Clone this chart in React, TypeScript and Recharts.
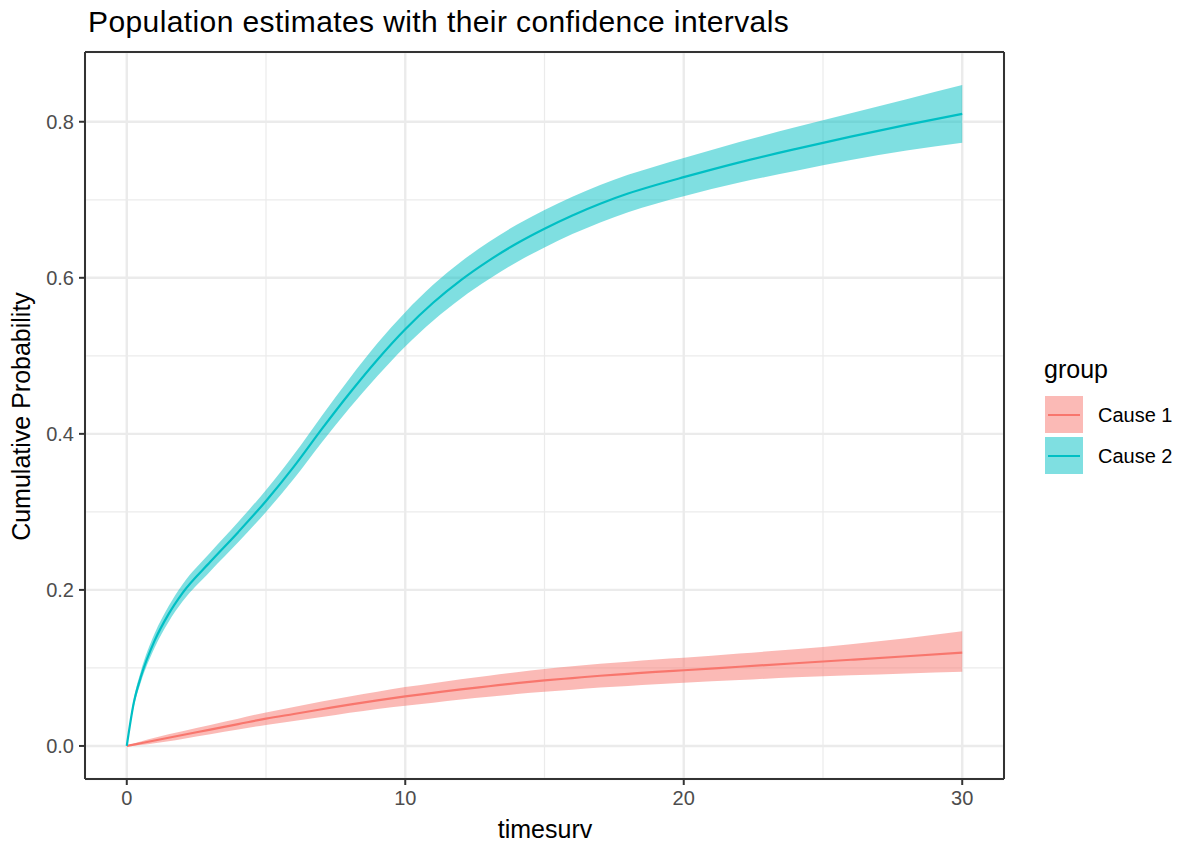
import React from 'react';
import { ComposedChart, Area, Line, XAxis, YAxis, CartesianGrid } from 'recharts';

const times = [0, 0.25, 0.5, 1, 1.5, 2, 3, 4, 5, 6, 7, 8, 9, 10, 11, 12, 13, 14, 15, 16, 17, 18, 19, 20, 22, 24, 26, 28, 30];

const cause1Est = [0, 0.0018, 0.0035, 0.007, 0.0105, 0.014, 0.021, 0.028, 0.035, 0.041, 0.047, 0.053, 0.0585, 0.0635, 0.068, 0.0725, 0.0765, 0.0805, 0.084, 0.087, 0.09, 0.0925, 0.095, 0.097, 0.1015, 0.106, 0.1105, 0.115, 0.1195];
const cause1Lo = [0, 0.0005, 0.0013, 0.0035, 0.006, 0.009, 0.015, 0.021, 0.027, 0.032, 0.037, 0.0425, 0.0475, 0.0515, 0.0555, 0.0595, 0.063, 0.0665, 0.0695, 0.072, 0.0748, 0.077, 0.0792, 0.081, 0.0845, 0.088, 0.0905, 0.093, 0.095];
const cause1Hi = [0, 0.0031, 0.0057, 0.0105, 0.015, 0.019, 0.027, 0.035, 0.043, 0.05, 0.057, 0.0635, 0.0695, 0.0755, 0.0805, 0.0855, 0.09, 0.0945, 0.0985, 0.102, 0.1052, 0.108, 0.1108, 0.113, 0.1185, 0.124, 0.1305, 0.138, 0.147];

const cause2Est = [0, 0.055, 0.088, 0.135, 0.169, 0.196, 0.236, 0.274, 0.314, 0.358, 0.406, 0.452, 0.495, 0.534, 0.568, 0.597, 0.622, 0.644, 0.663, 0.68, 0.695, 0.708, 0.719, 0.729, 0.748, 0.765, 0.781, 0.796, 0.81];
const cause2Lo = [0, 0.05, 0.081, 0.126, 0.159, 0.185, 0.224, 0.261, 0.3, 0.3425, 0.389, 0.433, 0.474, 0.512, 0.545, 0.5735, 0.598, 0.62, 0.639, 0.656, 0.671, 0.684, 0.695, 0.7045, 0.722, 0.737, 0.751, 0.763, 0.773];
const cause2Hi = [0, 0.06, 0.095, 0.144, 0.179, 0.207, 0.248, 0.287, 0.328, 0.3735, 0.423, 0.471, 0.516, 0.556, 0.591, 0.6205, 0.646, 0.668, 0.687, 0.704, 0.719, 0.732, 0.743, 0.7535, 0.774, 0.793, 0.811, 0.829, 0.847];

const xMajorTicks = [0, 10, 20, 30];
const xMinorTicks = [5, 15, 25];
const yMajorTicks = [0, 0.2, 0.4, 0.6, 0.8];
const yMinorTicks = [0.1, 0.3, 0.5, 0.7];

const groups = ['Cause 1', 'Cause 2'];
const colors = ['#F8766D', '#00BFC4'];

const xDomain = [-1.5, 31.5];
const yDomain = [-0.04235, 0.8894];

const data = times.map((t, i) => ({
  t,
  c1: cause1Est[i],
  c1r: [cause1Lo[i], cause1Hi[i]],
  c2: cause2Est[i],
  c2r: [cause2Lo[i], cause2Hi[i]],
}));

const FONT = '"Liberation Sans", Arial, Helvetica, sans-serif';
const tickStyle = { fill: '#4D4D4D', fontSize: 20, fontFamily: FONT };
const borderLine = { stroke: '#333333', strokeWidth: 2 };
const NoTick = () => <g />;

export default function App() {
  return (
    <div style={{ position: 'absolute', left: 0, top: 0, width: 1189, height: 841, background: '#fff', fontFamily: FONT }}>
      <div style={{ position: 'absolute', left: 88, top: 7, fontSize: 30, lineHeight: '30px', color: '#000', whiteSpace: 'nowrap', letterSpacing: 0.4 }}>
        Population estimates with their confidence intervals
      </div>
      <ComposedChart
        width={1189}
        height={841}
        data={data}
        margin={{ top: 51, right: 184, bottom: 32, left: 25 }}
        style={{ position: 'absolute', left: 0, top: 0 }}
      >
        <CartesianGrid xAxisId="top" yAxisId="right" stroke="#EBEBEB" strokeWidth={1.2} />
        <CartesianGrid xAxisId="bottom" yAxisId="left" stroke="#EBEBEB" strokeWidth={2.4} />
        <XAxis
          xAxisId="bottom"
          dataKey="t"
          type="number"
          domain={xDomain}
          allowDataOverflow
          ticks={xMajorTicks}
          height={30}
          tickSize={6}
          tickMargin={6}
          tick={tickStyle}
          tickLine={borderLine}
          axisLine={borderLine}
        />
        <XAxis
          xAxisId="top"
          orientation="top"
          dataKey="t"
          type="number"
          domain={xDomain}
          allowDataOverflow
          ticks={xMinorTicks}
          interval={0}
          height={1}
          tick={NoTick}
          tickSize={0}
          tickLine={false}
          axisLine={borderLine}
        />
        <YAxis
          yAxisId="left"
          type="number"
          domain={yDomain}
          allowDataOverflow
          ticks={yMajorTicks}
          width={60}
          tickSize={6}
          tickMargin={5}
          tick={tickStyle}
          tickFormatter={(v: number) => v.toFixed(1)}
          tickLine={borderLine}
          axisLine={borderLine}
        />
        <YAxis
          yAxisId="right"
          orientation="right"
          type="number"
          domain={yDomain}
          allowDataOverflow
          ticks={yMinorTicks}
          interval={0}
          width={1}
          tick={NoTick}
          tickSize={0}
          tickLine={false}
          axisLine={borderLine}
        />
        <Area xAxisId="bottom" yAxisId="left" type="monotone" dataKey="c1r" fill={colors[0]} fillOpacity={0.5} stroke="none" isAnimationActive={false} dot={false} activeDot={false} />
        <Area xAxisId="bottom" yAxisId="left" type="monotone" dataKey="c2r" fill={colors[1]} fillOpacity={0.5} stroke="none" isAnimationActive={false} dot={false} activeDot={false} />
        <Line xAxisId="bottom" yAxisId="left" type="monotone" dataKey="c1" stroke={colors[0]} strokeWidth={2.2} dot={false} activeDot={false} isAnimationActive={false} />
        <Line xAxisId="bottom" yAxisId="left" type="monotone" dataKey="c2" stroke={colors[1]} strokeWidth={2.2} dot={false} activeDot={false} isAnimationActive={false} />
      </ComposedChart>
      <div style={{ position: 'absolute', left: 345, top: 817, width: 400, textAlign: 'center', fontSize: 25, lineHeight: '25px', color: '#000' }}>
        timesurv
      </div>
      <div style={{ position: 'absolute', left: 21 - 150, top: 416 - 12.5, width: 300, height: 25, textAlign: 'center', fontSize: 25, lineHeight: '25px', color: '#000', transform: 'rotate(-90deg)', whiteSpace: 'nowrap' }}>
        Cumulative Probability
      </div>
      <div style={{ position: 'absolute', left: 1044, top: 357, fontSize: 25, lineHeight: '25px', color: '#000' }}>group</div>
      {groups.map((g, i) => (
        <React.Fragment key={g}>
          <div style={{ position: 'absolute', left: 1045, top: 396 + i * 41, width: 38, height: 37, background: colors[i], opacity: 0.5 }} />
          <div style={{ position: 'absolute', left: 1048, top: 413.5 + i * 41, width: 32, height: 2, background: colors[i] }} />
          <div style={{ position: 'absolute', left: 1098, top: 405 + i * 41, fontSize: 20, lineHeight: '20px', color: '#000', whiteSpace: 'nowrap' }}>{g}</div>
        </React.Fragment>
      ))}
    </div>
  );
}
